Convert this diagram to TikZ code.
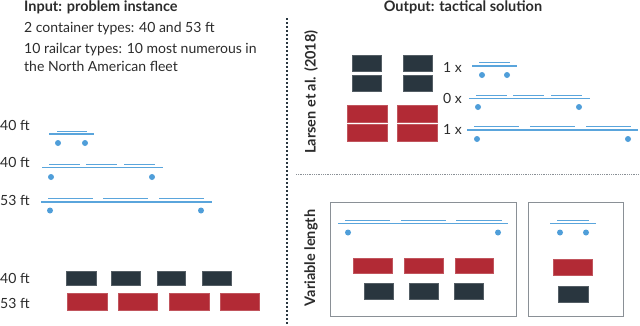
\documentclass[tikz,border=0pt]{standalone}
\usepackage{fontspec}
\setmainfont{Lato}
\definecolor{txt}{HTML}{2B2B2B}
\definecolor{navy}{HTML}{29363F}
\definecolor{cred}{HTML}{B22A35}
\definecolor{rail}{HTML}{5AA5DC}
\definecolor{wheel}{HTML}{4F9ED9}
\definecolor{boxgray}{HTML}{8A9096}
\tikzset{
  lbl/.style={font=\fontsize{14}{16}\selectfont, text=txt, inner sep=0pt},
  ttl/.style={font=\fontsize{14.5}{16}\selectfont\bfseries, text=txt, inner sep=0pt},
  deck/.style={draw=rail, line width=1pt},
  base/.style={draw=rail, line width=1.2pt},
  whl/.style={fill=wheel},
  cont/.style={fill=navy, draw=navy!80!white, line width=0.4pt},
  trl/.style={fill=cred, draw=cred!80!white, line width=0.4pt},
  panel/.style={draw=boxgray, line width=1pt}
}
\begin{document}
\begin{tikzpicture}[x=1pt,y=-1pt]
\useasboundingbox (0,0) rectangle (640,325);
% titles
\node[ttl, anchor=west] (t1) at (24,7.5) {Input: problem instance};
\node[lbl, anchor=west] (l1) at (24,28.5) {2 container types: 40 and 53 ft};
\node[lbl, anchor=west] (l2) at (24,50) {10 railcar types: 10 most numerous in};
\node[lbl, anchor=west] (l3) at (24,66.5) {the North American fleet};
\node[ttl] (t2) at (463,7) {Output: tactical solution};
% separators
\draw[navy, line width=1.3pt, dash pattern=on 1.6pt off 2.4pt] (287,18) -- (287,325);
\draw[boxgray, line width=0.6pt, dash pattern=on 0.8pt off 1.0pt] (296,174) -- (640,174);
% left railcar labels
\node[lbl, anchor=west] (r1) at (0,125) {40 ft};
\node[lbl, anchor=west] (r2) at (0,162) {40 ft};
\node[lbl, anchor=west] (r3) at (0,200) {53 ft};
% left railcars
\draw[deck] (57,131) -- (87,131);
\draw[base] (49,134) -- (94,134);
\fill[whl] (58,143) circle (3); \fill[whl] (85,143) circle (3);
\draw[deck] (49,164) -- (80,164) (86,164) -- (117,164) (124,164) -- (155,164);
\draw[base] (42,167.7) -- (163,167.7);
\fill[whl] (51,177) circle (3); \fill[whl] (152,177) circle (3);
\draw[deck] (48,198.5) -- (93,198.5) (103,198.5) -- (148,198.5) (159,198.5) -- (204,198.5);
\draw[base] (41,202) -- (212,202);
\fill[whl] (50,210.5) circle (3); \fill[whl] (201,210.5) circle (3);
% left containers
\node[lbl, anchor=west] (c1) at (0,278) {40 ft};
\node[lbl, anchor=west] (c2) at (0,303) {53 ft};
\foreach \a/\b in {66/96,111/140,157/185,202/231} \draw[cont] (\a,271) rectangle (\b,285.5);
\foreach \a/\b in {67/107,118/157,169/209,220/259} \draw[trl] (\a,293.5) rectangle (\b,310);
% Larsen
\node[ttl, rotate=90] (v1) at (311,92) {Larsen et al. (2018)};
\foreach \a/\b in {352/381,403/432} {
  \draw[cont] (\a,55.5) rectangle (\b,71);
  \draw[cont] (\a,75.5) rectangle (\b,91);
}
\foreach \a/\b in {347/387,397/437} {
  \draw[trl] (\a,105) rectangle (\b,122);
  \draw[trl] (\a,124.5) rectangle (\b,141);
}
\node[lbl, anchor=west] (n1) at (443,67) {1 x};
\node[lbl, anchor=west] (n2) at (443,98.5) {0 x};
\node[lbl, anchor=west] (n3) at (443,129.5) {1 x};
\draw[deck] (479,62.5) -- (510,62.5);
\draw[base] (472,66) -- (517,66);
\fill[whl] (482,75) circle (3); \fill[whl] (507,75) circle (3);
\draw[deck] (476,95) -- (507,95) (513,95) -- (544,95) (551,95) -- (582,95);
\draw[base] (469,98.3) -- (590,98.3);
\fill[whl] (478,107) circle (3); \fill[whl] (579,107) circle (3);
\draw[deck] (474,126.5) -- (519,126.5) (530,126.5) -- (575,126.5) (586,126.5) -- (631,126.5);
\draw[base] (467,130) -- (638,130);
\fill[whl] (477,139) circle (3); \fill[whl] (628,139) circle (3);
% Variable length
\node[ttl, rotate=90] (v2) at (311,258) {Variable length};
\draw[panel] (330,202) rectangle (516,316);
\draw[panel] (528,202) rectangle (623,316);
\draw[deck] (345,220) -- (390,220) (401,220) -- (446,220) (456,220) -- (502,220);
\draw[base] (338,223.3) -- (508,223.3);
\fill[whl] (348,232.5) circle (3); \fill[whl] (498,232.5) circle (3);
\foreach \a/\b in {353/392,404/443,455/493} \draw[trl] (\a,258) rectangle (\b,273);
\foreach \a/\b in {364/393,409/438,454/483} \draw[cont] (\a,283) rectangle (\b,299);
\draw[deck] (557,220) -- (589,220);
\draw[base] (550,223.3) -- (596,223.3);
\fill[whl] (560,232.5) circle (3); \fill[whl] (586,232.5) circle (3);
\draw[trl] (553,259) rectangle (592,275);
\draw[cont] (558,286) rectangle (588,302);
\end{tikzpicture}
\end{document}
